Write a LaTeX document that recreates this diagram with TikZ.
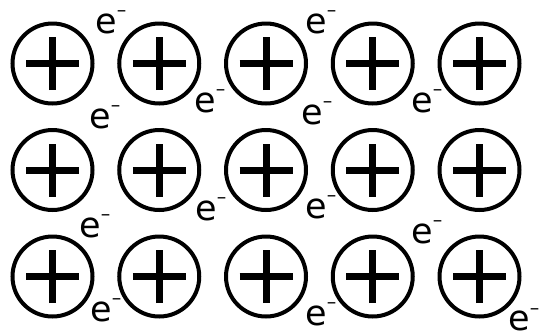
\documentclass[tikz,border=0pt]{standalone}
\usepackage{fontspec}
\setmainfont{DejaVu Sans}
\tikzset{
  ion/.style={circle, draw=black, line width=4pt, minimum size=80pt, inner sep=0pt,
    path picture={
      \draw[line width=7pt] ([xshift=-26.5pt]path picture bounding box.center) -- ([xshift=26.5pt]path picture bounding box.center);
      \draw[line width=7pt] ([yshift=-26.5pt]path picture bounding box.center) -- ([yshift=26.5pt]path picture bounding box.center);
    }},
  elec/.style={anchor=base west, inner sep=0pt, outer sep=0pt, text depth=0pt, font=\fontsize{35}{35}\selectfont}
}
\newcommand{\elab}{e\kern0.3pt\raisebox{16.5pt}{\fontsize{19}{19}\selectfont –}}
\begin{document}
\begin{tikzpicture}[x=1pt,y=-1pt]
\useasboundingbox (0,0) rectangle (540,333);
\foreach \i/\x in {1/52.5,2/159.25,3/266,4/372.75,5/479.5}{
  \foreach \j/\y in {1/63.5,2/170,3/276.5}{
    \node[ion] (c\j\i) at (\x,\y) {};
  }
}
\node[elec] (e1) at (95,33) {\elab};
\node[elec] (e2) at (89,128) {\elab};
\node[elec] (e3) at (194,112) {\elab};
\node[elec] (e4) at (305,33) {\elab};
\node[elec] (e5) at (301,124) {\elab};
\node[elec] (e6) at (411,112) {\elab};
\node[elec] (e7) at (195,220) {\elab};
\node[elec] (e8) at (79,237) {\elab};
\node[elec] (e9) at (90,321) {\elab};
\node[elec] (e10) at (305,218) {\elab};
\node[elec] (e11) at (411,243) {\elab};
\node[elec] (e12) at (305,325) {\elab};
\node[elec] (e13) at (508,330.5) {\elab};
\end{tikzpicture}
\end{document}
